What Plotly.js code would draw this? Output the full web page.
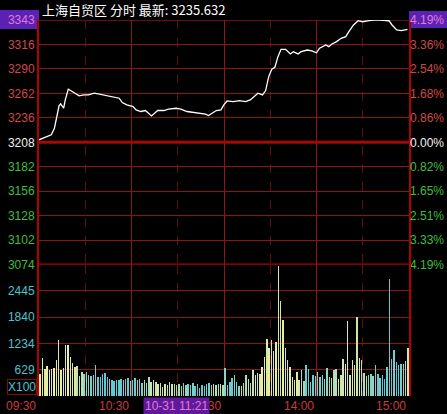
<!DOCTYPE html>
<html><head><meta charset="utf-8">
<script src="https://cdn.plot.ly/plotly-3.0.1.min.js"></script>
<style>html,body{margin:0;padding:0;background:#000;}#chart{width:447px;height:414px;}</style>
</head><body><div id="chart"></div>
<script>
// ---------- data ----------
const titleText = '上海自贸区 分时 最新: 3235.632';
const cursorLabel = '10-31 11:21';
// price line: trading-minute offset from 09:30 (0..240) and index value
const priceMin = [0,4,8,10,11,13,14,16,17,19,21,23,26,29,32,36,38,41,45,50,52,54,57,61,63,66,69,73,75,77,81,84,89,92,96,101,105,108,110,112,115,118,120,122,126,130,134,137,140,142,145,147,149,151,153,155,157,160,163,165,168,170,174,177,180,182,186,188,190,193,196,199,201,204,207,210,214,217,221,227,229,232,235,239];
const priceVal = [3211.3,3214.3,3216.8,3224,3231.4,3248.6,3250.8,3246,3255,3267,3265,3262.5,3259.6,3260.7,3260.7,3262.5,3261.8,3260.7,3259.6,3258,3257,3252.2,3249.7,3247.8,3244.2,3242.4,3243.5,3237.6,3240.6,3243.5,3243.5,3245,3246,3245,3242.4,3241.3,3240.6,3239.5,3238,3240.6,3243.5,3244.2,3250,3254,3253.3,3254.4,3253.3,3255.2,3259.6,3262.5,3260.7,3265.4,3280.8,3288.9,3291,3302.7,3310.8,3310.8,3305.7,3308.2,3305.7,3308.2,3310,3309,3307,3312,3315.6,3313.7,3316.7,3319.2,3322.9,3324.7,3330.2,3337.5,3342.2,3341.1,3342.2,3343,3343,3342.2,3337.5,3332,3331.3,3332.8];
// axis labels
const priceTickLabels = ['3074','3102','3128','3156','3182','3208','3236','3262','3290','3316','3343'];
const pctTickLabels   = ['4.19%','3.33%','2.51%','1.65%','0.82%','0.00%','0.86%','1.68%','2.54%','3.36%','4.19%'];
const volTickLabels   = ['X100','629','1234','1840','2445'];
const timeLabels   = ['09:30','10:30','11:30','14:00','15:00'];
const timeLabelMin = [0,60,120,180,240];
const cursorMin = 111;
// volume (x100), 40 bars per trading hour
const vol0930 = [525,900,640,700,600,630,666,838,1307,620,650,1190,1190,915,780,680,700,480,560,520,560,500,480,500,720,450,450,520,540,450,400,370,345,370,380,400,380,400,420,350];
const vol1030 = [383,430,367,400,305,383,305,446,328,367,328,289,305,211,274,250,328,274,289,250,289,227,305,250,289,250,305,227,289,195,250,227,289,305,250,274,250,289,274,250];
const vol1300 = [665,250,330,420,485,330,240,227,300,485,407,300,602,500,540,520,680,915,1345,1134,1306,1056,1267,3050,2230,1775,1134,837,680,446,367,563,380,602,360,720,641,330,485,461];
const vol1400 = [560,446,485,400,665,450,420,602,641,400,500,876,759,1752,500,837,720,1838,900,837,550,470,500,520,460,720,520,420,490,400,680,2729,876,1071,798,720,760,740,820,1134];

// ---------- build ----------
const vols = vol0930.concat(vol1030, vol1300, vol1400);
const barMinutes = 240 / vols.length;
const volX = vols.map((v, i) => (i + 0.5) * barMinutes);

const pMin = 3074, pMax = 3343;
const priceTicks = priceTickLabels.map((_, i) => pMin + i * (pMax - pMin) / (priceTickLabels.length - 1));
const vMax = 3074;
const volTicks = volTickLabels.map((_, i) => i * vMax / 5);

const RED = '#d04848', GREEN = '#3fbf3f', CYAN = '#4cc3d0', WHITE = '#f0f0f0', PINK = '#e07ad8';
const baseIdx = 5;
function sideColor(i, last) {
  if (i === last) return PINK;
  if (i > baseIdx) return RED;
  if (i === baseIdx) return WHITE;
  return GREEN;
}
const priceText = priceTickLabels.map((t, i) => `<span style="color:${sideColor(i, priceTickLabels.length - 1)}">${t}</span>`);
const pctText = pctTickLabels.map((t, i) => `<span style="color:${sideColor(i, pctTickLabels.length - 1)}">${t}</span>`);
const volText = volTickLabels.map((t, i) => i === 0 ? '' : `<span style="color:${CYAN}">${t}</span>`);

// bar tint (pale yellow <-> cyan), varies along the session
const toneAnchors = [[0,0.05],[14,0.1],[19,0.55],[25,0.95],[38,0.9],[44,0.75],[49,0.2],[56,0.25],[61,0.6],[68,0.95],[72,0.9],[76,0.35],[79,0.4],[81,0.9],[84,0.85],[88,0.45],[95,0.1],[112,0.15],[115,0.85],[121,0.8],[126,0.45],[132,0.1],[138,0.2],[142,0.6],[147,0.95],[156,0.9],[159,0.25]];
function tone(i) {
  for (let k = 0; k < toneAnchors.length - 1; k++) {
    const [a, ta] = toneAnchors[k], [b, tb] = toneAnchors[k + 1];
    if (i >= a && i <= b) return ta + (tb - ta) * (i - a) / (b - a);
  }
  return 0.5;
}
const Y = [238, 238, 160], C = [92, 200, 214];
const barColors = vols.map((v, i) => {
  let t = tone(i) + (i % 3 === 0 ? -0.08 : 0.04);
  t = Math.max(0, Math.min(1, t));
  const c = Y.map((y, k) => Math.round(y + (C[k] - y) * t));
  return `rgb(${c[0]},${c[1]},${c[2]})`;
});

const GRID = '#8a1616', DIM = '#5c1010', BRIGHT = '#b00000';
const FONT = 'Liberation Sans, Arial, sans-serif';
const volTop = 0.3492;

const traces = [
  { type: 'bar', x: volX, y: vols, xaxis: 'x', yaxis: 'y2', width: barMinutes * 0.62,
    marker: { color: barColors, line: { width: 0 } }, hoverinfo: 'skip' },
  { type: 'scatter', mode: 'lines', x: priceMin, y: priceVal, xaxis: 'x', yaxis: 'y',
    line: { color: '#ffffff', width: 1.3 }, hoverinfo: 'skip' },
  { type: 'scatter', mode: 'markers', x: [0], y: [priceTicks[baseIdx]], xaxis: 'x', yaxis: 'y3',
    marker: { opacity: 0 }, hoverinfo: 'skip' }
];

const annotations = [
  { xref: 'paper', yref: 'paper', x: 0, y: 1 + 10 / 376, xanchor: 'left', yanchor: 'middle', xshift: 1,
    text: titleText, showarrow: false,
    font: { family: 'Noto Sans CJK SC, Liberation Sans, sans-serif', size: 13, color: '#ffffff' } },
  { xref: 'paper', yref: 'y2', x: 0, y: 0, xanchor: 'right', yanchor: 'bottom', xshift: -2, yshift: 1,
    text: volTickLabels[0], showarrow: false, bordercolor: '#7a1010', borderwidth: 1, borderpad: 0,
    font: { family: FONT, size: 12, color: CYAN } }
];
timeLabels.forEach((t, i) => {
  annotations.push({ xref: 'x', yref: 'paper', x: timeLabelMin[i], y: 0, xanchor: 'right', yanchor: 'top',
    xshift: -1, yshift: -1, text: t, showarrow: false, font: { family: FONT, size: 12, color: '#c83c3c' } });
});
annotations.push({ xref: 'x', yref: 'paper', x: cursorMin, y: 0, xanchor: 'right', yanchor: 'top',
  yshift: -1, text: cursorLabel, showarrow: false, bgcolor: '#5e1a9a', borderpad: 1,
  font: { family: FONT, size: 12, color: PINK } });

const layout = {
  width: 447, height: 414,
  margin: { l: 39, r: 38, t: 20, b: 18, pad: 0 },
  paper_bgcolor: '#000000', plot_bgcolor: '#000000',
  showlegend: false, hovermode: false, bargap: 0,
  xaxis: { range: [0, 240], anchor: 'y2', showticklabels: false, ticks: '', zeroline: false,
    tickmode: 'array', tickvals: [60, 120, 180], showgrid: true, gridcolor: GRID, gridwidth: 1,
    minor: { tickmode: 'array', tickvals: [30, 90, 150, 210], showgrid: true, gridcolor: DIM, griddash: 'dash', gridwidth: 1 } },
  yaxis: { domain: [volTop, 1], range: [pMin, pMax], tickmode: 'array', tickvals: priceTicks, ticktext: priceText,
    showgrid: true, gridcolor: GRID, gridwidth: 1, zeroline: false, ticks: '', ticklen: 0,
    showline: true, mirror: true, linecolor: BRIGHT, linewidth: 2,
    tickfont: { family: FONT, size: 12, color: RED } },
  yaxis2: { domain: [0, volTop], range: [0, vMax], tickmode: 'array', tickvals: volTicks, ticktext: volText,
    showgrid: true, gridcolor: GRID, gridwidth: 1, zeroline: false, ticks: '', ticklen: 0,
    showline: true, mirror: true, linecolor: BRIGHT, linewidth: 2,
    tickfont: { family: FONT, size: 12, color: CYAN } },
  yaxis3: { overlaying: 'y', side: 'right', anchor: 'x', range: [pMin, pMax], tickmode: 'array',
    tickvals: priceTicks, ticktext: pctText, showgrid: false, zeroline: false, ticks: '', ticklen: 0,
    tickfont: { family: FONT, size: 12, color: RED } },
  shapes: [
    { type: 'rect', xref: 'paper', yref: 'paper', x0: -39 / 370, x1: 0, y0: 1 - 9 / 376, y1: 1 + 10 / 376,
      fillcolor: '#5a22b4', line: { width: 0 }, layer: 'below' },
    { type: 'rect', xref: 'paper', yref: 'paper', x0: 1, x1: 1 + 38 / 370, y0: 1 - 8 / 376, y1: 1 + 9 / 376,
      fillcolor: '#5a22b4', line: { width: 0 }, layer: 'below' },
    { type: 'line', xref: 'paper', yref: 'y', x0: 0, x1: 1, y0: priceTicks[baseIdx], y1: priceTicks[baseIdx],
      line: { color: BRIGHT, width: 3 }, layer: 'below' },
    { type: 'line', xref: 'paper', yref: 'y', x0: 0, x1: 1, y0: priceTicks[0], y1: priceTicks[0],
      line: { color: BRIGHT, width: 2.5 }, layer: 'below' },
    { type: 'line', xref: 'paper', yref: 'y', x0: 0, x1: 1, y0: priceTicks[priceTicks.length - 1], y1: priceTicks[priceTicks.length - 1],
      line: { color: GRID, width: 1.5 }, layer: 'below' }
  ],
  annotations: annotations
};

Plotly.newPlot('chart', traces, layout, { staticPlot: true, displayModeBar: false });
</script>
</body></html>
